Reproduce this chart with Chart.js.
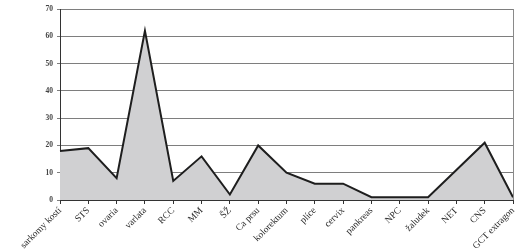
<!DOCTYPE html>
<html><head><meta charset="utf-8">
<script src="https://cdn.jsdelivr.net/npm/chart.js@4"></script>
<style>html,body{margin:0;padding:0;background:#fff}#c{display:block}</style>
</head><body>
<canvas id="c" width="519" height="251"></canvas>
<script>
const categories = ["sarkomy kostí","STS","ovaria","varlata","RCC","MM","ŠŽ","Ca prsu","kolorektum","plíce","cervix","pankreas","NPC","žaludek","NET","CNS","GCT extragon"];
const values = [18,19,8,62,7,16,2,20,10,6,6,1,1,1,11,21,1];
const yTicks = [0,10,20,30,40,50,60,70];

const rightBorder = {
  id: 'rightBorder',
  afterDatasetsDraw(chart) {
    const {ctx, chartArea:a} = chart;
    ctx.save();
    ctx.strokeStyle = '#8a8a8a';
    ctx.lineWidth = 1;
    ctx.beginPath();
    ctx.moveTo(Math.round(a.right)+0.5, a.top);
    ctx.lineTo(Math.round(a.right)+0.5, a.bottom);
    ctx.stroke();
    ctx.restore();
  }
};

new Chart(document.getElementById('c'), {
  type: 'line',
  data: {
    labels: categories,
    datasets: [{
      data: values,
      fill: 'origin',
      backgroundColor: '#d0d0d2',
      borderColor: '#1e1e1e',
      borderWidth: 2,
      tension: 0,
      pointRadius: 0,
      borderJoinStyle: 'miter'
    }]
  },
  options: {
    responsive: false,
    animation: false,
    devicePixelRatio: 1,
    layout: { padding: { top: 9, right: 6, left: 0, bottom: 0 } },
    plugins: { legend: { display: false }, tooltip: { enabled: false } },
    scales: {
      x: {
        offset: false,
        grid: { display: true, drawOnChartArea: false, drawTicks: true, tickLength: 4, color: '#333' },
        border: { display: true, color: '#333', width: 1 },
        ticks: {
          autoSkip: false, maxRotation: 45, minRotation: 45,
          font: { family: 'Liberation Serif', size: 9.5 }, color: '#2a2a2a', padding: 1
        },
        afterFit(s) { s.height = 51; s.paddingLeft = 0; s.paddingRight = 0; }
      },
      y: {
        min: 0, max: 70,
        afterBuildTicks(s) { s.ticks = yTicks.map(v => ({ value: v })); },
        grid: { color: '#7e7e7e', lineWidth: 1, drawTicks: true, tickLength: 3 },
        border: { display: true, color: '#333', width: 1 },
        ticks: { font: { family: 'Liberation Serif', size: 7.5, weight: 'bold' }, color: '#444', padding: 4 },
        afterFit(s) { s.width = 60; s.paddingTop = 0; s.paddingBottom = 0; }
      }
    }
  },
  plugins: [rightBorder]
});
</script>
</body></html>
